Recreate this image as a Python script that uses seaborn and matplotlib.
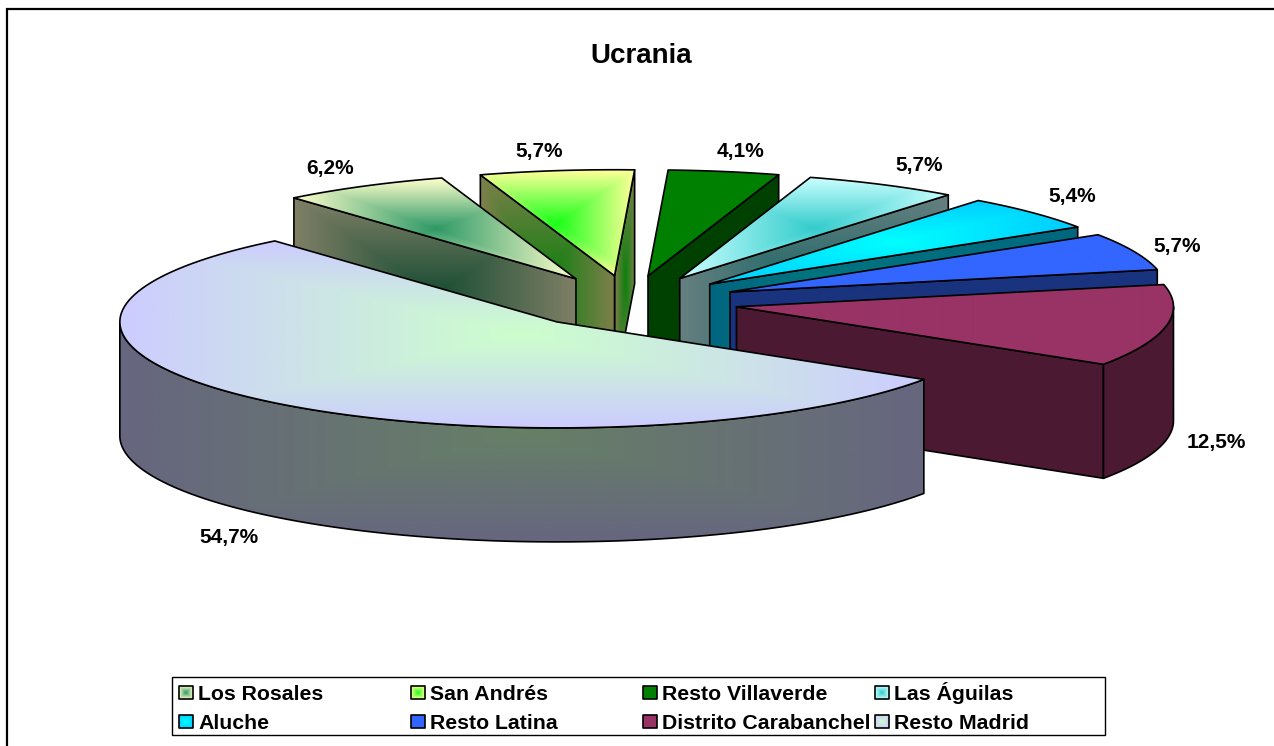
import numpy as np
import seaborn as sns
from matplotlib import pyplot as plt
from matplotlib.patches import Polygon, Rectangle

categories = [
    "Los Rosales",
    "San Andrés",
    "Resto Villaverde",
    "Las Águilas",
    "Aluche",
    "Resto Latina",
    "Distrito Carabanchel",
    "Resto Madrid",
]
values = [6.2, 5.7, 4.1, 5.7, 5.4, 5.7, 12.5, 54.7]
edge_colors = ["#FFFFCC", "#FFFF99", "#008000", "#CCFFFF", "#00CCFF", "#3366FF", "#993366", "#CCCCFF"]
center_colors = ["#2E9966", "#1AFF1A", "#008000", "#33CCCC", "#00FFFF", "#3366FF", "#993366", "#CCFFCC"]
# label offset from the rim point of each slice
label_nudges = [(-34, -18), (-17, -19), (16, -20), (37, -19), (40, -16), (43, -5), (50, 3), (-39, 22)]

W, H = 1274, 746
CX, CY = 629.0, 302.0
RX, RY = 437.0, 106.0
DEPTH = 114.0
EXPLODE = 0.25
START_ANGLE = 229.8  # clockwise from east, first slice


def rim(center, start, end):
    t = np.radians(np.linspace(start, end, 120))
    return np.column_stack([center[0] + RX * np.cos(t), center[1] + RY * np.sin(t)])


def gradient_face(ax, verts, edge, center):
    x0, y0 = verts.min(axis=0)
    x1, y1 = verts.max(axis=0)
    xx, yy = np.meshgrid(np.linspace(-1, 1, 400), np.linspace(-1, 1, 400))
    t = np.maximum(np.abs(xx), np.abs(yy))
    cmap = sns.blend_palette([center, edge], n_colors=128, as_cmap=True)
    im = ax.imshow(t, cmap=cmap, vmin=0, vmax=1, extent=(x0, x1, y1, y0), aspect="auto", zorder=ax.next_z)
    outline = Polygon(verts, closed=True, fill=False, edgecolor="black", lw=1.2, joinstyle="round", zorder=ax.next_z + 0.5)
    ax.add_patch(outline)
    im.set_clip_path(outline)
    ax.next_z += 1


def darker(color):
    return tuple(c * 0.5 for c in sns.desaturate(color, 1.0))


def draw_slice(ax, s):
    apex, a0, a1 = s["apex"], s["start"], s["end"]
    edge, center = s["edge"], s["center"]
    wall_edge, wall_center = darker(edge), darker(center)
    down = np.array([0, DEPTH])

    for ang, visible in ((a1, np.cos(np.radians(a1)) > 0), (a0, np.cos(np.radians(a0)) < 0)):
        if visible:
            p = rim(apex, ang, ang)[0]
            gradient_face(ax, np.array([apex, p, p + down, apex + down]), wall_edge, wall_center)

    # outer wall, only the front half of the ellipse shows
    for lo, hi in ((a0, a1), (a0 - 360, a1 - 360)):
        lo, hi = max(lo, 0), min(hi, 180)
        if hi > lo:
            arc = rim(apex, lo, hi)
            gradient_face(ax, np.vstack([arc, arc[::-1] + down]), wall_edge, wall_center)

    top = np.vstack([[apex], rim(apex, a0, a1)])
    gradient_face(ax, top, edge, center)


def main():
    sns.set_theme(style="white")
    plt.rcParams["font.family"] = ["Liberation Sans", "DejaVu Sans"]

    fig = plt.figure(figsize=(W / 100, H / 100), dpi=100)
    ax = fig.add_axes([0, 0, 1, 1])
    ax.next_z = 2

    slices = []
    angle = START_ANGLE
    for i, v in enumerate(values):
        sweep = v * 3.6
        mid = np.radians(angle + sweep / 2)
        apex = np.array([CX + EXPLODE * RX * np.cos(mid), CY + EXPLODE * RY * np.sin(mid)])
        slices.append(
            dict(apex=apex, start=angle, end=angle + sweep, mid=mid, edge=edge_colors[i], center=center_colors[i])
        )
        angle += sweep

    # back to front
    for s in sorted(slices, key=lambda s: s["apex"][1]):
        draw_slice(ax, s)

    for s, v, (dx, dy) in zip(slices, values, label_nudges):
        x = s["apex"][0] + RX * np.cos(s["mid"]) + dx
        y = s["apex"][1] + RY * np.sin(s["mid"]) + dy
        if np.sin(s["mid"]) > 0:
            y += DEPTH
        ax.text(x, y, f"{v:.1f}%".replace(".", ","), ha="center", va="center", fontsize=15, fontweight="bold", color="black", zorder=50)

    ax.text(641, 56, "Ucrania", ha="center", va="center", fontsize=20, fontweight="bold", color="black", zorder=50)

    # chart frame, only left and top fall inside the picture
    ax.plot([7, 7, W + 5], [H + 5, 9, 9], color="black", lw=1.6, zorder=60, solid_joinstyle="miter")

    # legend
    ax.add_patch(Rectangle((172, 677), 933, 57.5, facecolor="white", edgecolor="black", lw=1.0, zorder=40))
    ax.next_z = 41
    for i, name in enumerate(categories):
        col, row = i % 4, i // 4
        x = 179 + 232 * col
        y = 686 + 29 * row
        box = np.array([[x, y], [x + 14, y], [x + 14, y + 13], [x, y + 13]], dtype=float)
        gradient_face(ax, box, edge_colors[i], center_colors[i])
        ax.text(x + 19, y + 14, name, ha="left", va="baseline", fontsize=15.3, fontweight="bold", color="black", zorder=50)

    ax.set_xlim(0, W)
    ax.set_ylim(H, 0)
    ax.axis("off")
    fig.savefig("out.png", dpi=100, facecolor="white")


if __name__ == "__main__":
    main()
